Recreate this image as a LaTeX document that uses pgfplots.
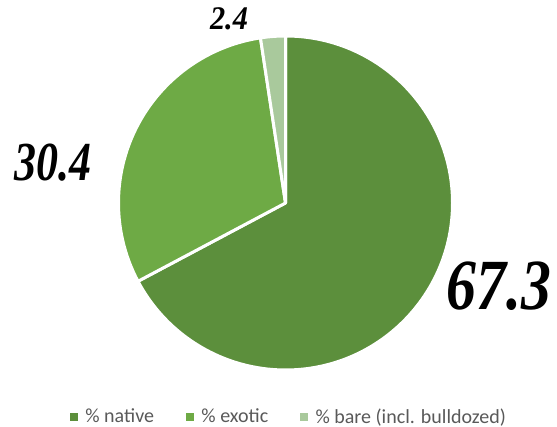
\documentclass[border=0pt]{standalone}
\usepackage{pgfplots}
\usepackage{pgfplotstable}
\pgfplotsset{compat=1.18}
\usepackage{fontspec}
\newfontfamily\labfont{Liberation Serif}
\newfontfamily\legfont{Carlito}
\definecolor{cnative}{HTML}{5C8F3C}
\definecolor{cexotic}{HTML}{6EAA45}
\definecolor{cbare}{HTML}{A9C99C}
\definecolor{textgrey}{HTML}{595959}
\pgfplotstableread{
name value
native 67.3
exotic 30.4
bare 2.4
}\piedata
\begin{document}
\begin{tikzpicture}
\pgfplotstablegetelem{0}{value}\of\piedata\let\vA\pgfplotsretval
\pgfplotstablegetelem{1}{value}\of\piedata\let\vB\pgfplotsretval
\pgfplotstablegetelem{2}{value}\of\piedata\let\vC\pgfplotsretval
\pgfmathsetmacro\tot{\vA+\vB+\vC}
\pgfmathsetmacro\aA{90}
\pgfmathsetmacro\aB{\aA-360*(\vA/\tot)}
\pgfmathsetmacro\aC{\aB-360*(\vB/\tot)}
\pgfmathsetmacro\aD{\aC-360*(\vC/\tot)}
\begin{axis}[
  name=ax,
  width=557pt, height=427pt, scale only axis,
  xmin=0, xmax=557, ymin=0, ymax=427,
  hide axis, clip=false,
  legend columns=3,
  legend style={draw=none, fill=none, at={(axis cs:70,10.5)}, anchor=west,
    inner sep=0pt, outer sep=0pt,
    font=\legfont\fontsize{20}{20}\selectfont, text=textgrey,
    /tikz/every odd column/.append style={column sep=8pt},
    /tikz/every even column/.append style={column sep=32pt},
    nodes={inner sep=0pt}},
  legend cell align=left,
]
\fill[cnative, draw=white, line width=3pt, line join=round]
  (axis cs:285.5,224) -- ++(\aA:167pt) arc[start angle=\aA, end angle=\aB, radius=167pt] -- cycle;
\fill[cexotic, draw=white, line width=3pt, line join=round]
  (axis cs:285.5,224) -- ++(\aB:167pt) arc[start angle=\aB, end angle=\aC, radius=167pt] -- cycle;
\fill[cbare, draw=white, line width=3pt, line join=round]
  (axis cs:285.5,224) -- ++(\aC:167pt) arc[start angle=\aC, end angle=\aD, radius=167pt] -- cycle;
\node[inner sep=0pt, font=\labfont\bfseries\itshape\fontsize{72}{72}\selectfont] at (axis cs:499,141) {\scalebox{0.83}[1]{67.3}};
\node[inner sep=0pt, font=\labfont\bfseries\itshape\fontsize{55}{55}\selectfont] at (axis cs:53,264) {\scalebox{0.8}[1]{30.4}};
\node[inner sep=0pt, font=\labfont\bfseries\itshape\fontsize{33}{33}\selectfont] at (axis cs:229,408) {\scalebox{0.92}[1]{2.4}};
\addlegendimage{legend image code/.code={\fill[cnative] (0pt,-3.5pt) rectangle (7pt,3.5pt);}}
\addlegendentry{\% native}
\addlegendimage{legend image code/.code={\fill[cexotic] (0pt,-3.5pt) rectangle (7pt,3.5pt);}}
\addlegendentry{\% exotic}
\addlegendimage{legend image code/.code={\fill[cbare] (0pt,-3.5pt) rectangle (7pt,3.5pt);}}
\addlegendentry{\% bare (incl. bulldozed)}
\end{axis}
\pgfresetboundingbox
\useasboundingbox (ax.south west) rectangle (ax.north east);
\end{tikzpicture}
\end{document}
